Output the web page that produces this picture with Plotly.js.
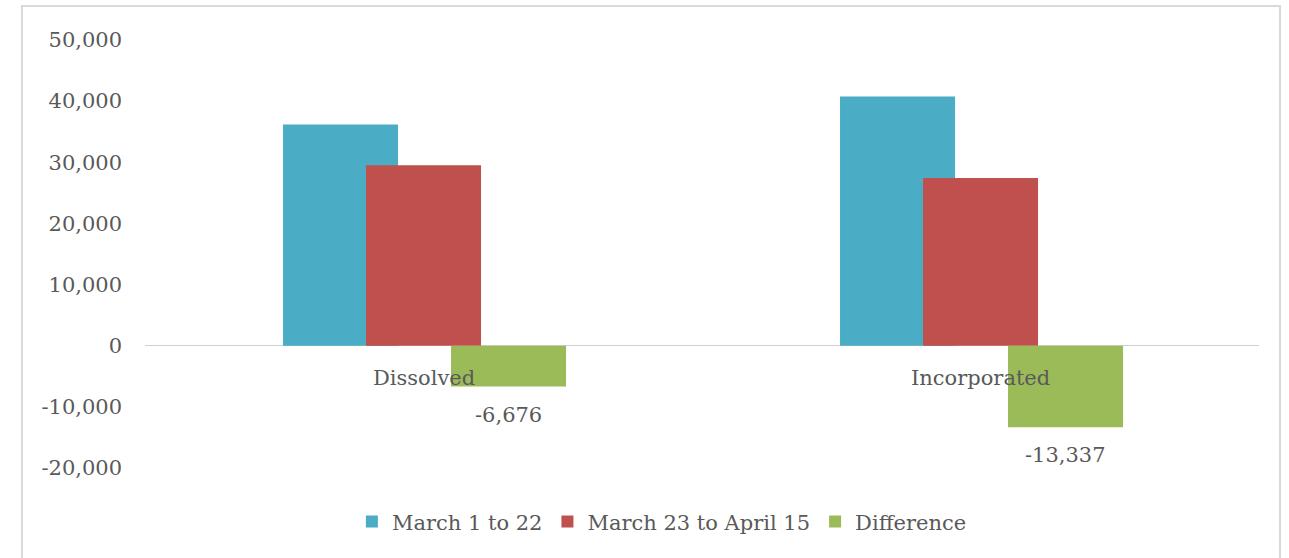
<!DOCTYPE html>
<html>
<head>
<meta charset="utf-8">
<script src="https://cdn.plot.ly/plotly-3.0.1.min.js"></script>
<style>html,body{margin:0;padding:0;background:#fff;}#chart{width:1289px;height:558px;}</style>
</head>
<body>
<div id="chart"></div>
<script>
const categories = ["Dissolved", "Incorporated"];
const seriesNames = ["March 1 to 22", "March 23 to April 15", "Difference"];
const march1to22 = [36200, 40750];
const march23toApr15 = [29524, 27413];
const difference = [-6676, -13337];
const tickValues = [-20000, -10000, 0, 10000, 20000, 30000, 40000, 50000];
const tickLabels = ["-20,000", "-10,000", "0", "10,000", "20,000", "30,000", "40,000", "50,000"];

const FONT = "DejaVu Serif";
const FS = 21;
const TXT = "#595959";
const W = 0.2065;
const offsets = [-0.2522, -0.1032, 0.0494];
const colors = ["#4bacc6", "#c0504d", "#9bbb59"];
const series = [march1to22, march23toApr15, difference];

const traces = series.map((vals, i) => ({
  type: "bar",
  name: seriesNames[i],
  x: categories,
  y: vals,
  width: W,
  offset: offsets[i],
  marker: {color: colors[i], line: {width: 0}},
  hoverinfo: "skip"
}));

const fmt = v => (v < 0 ? "-" : "") + Math.abs(v).toLocaleString("en-US");

const annotations = [];
categories.forEach((c, i) => {
  annotations.push({
    x: i, y: 0, xref: "x", yref: "y", text: c, showarrow: false,
    yanchor: "middle", yshift: -32,
    font: {family: FONT, size: FS, color: TXT}
  });
  annotations.push({
    x: i + offsets[2] + W / 2, y: difference[i], xref: "x", yref: "y",
    text: fmt(difference[i]), showarrow: false,
    yanchor: "middle", yshift: -28,
    font: {family: FONT, size: FS, color: TXT}
  });
});

const layout = {
  width: 1289, height: 558,
  margin: {l: 145, r: 30, t: 40, b: 90, pad: 0},
  paper_bgcolor: "#fff", plot_bgcolor: "#fff",
  barmode: "overlay",
  font: {family: FONT, size: FS, color: TXT},
  xaxis: {
    type: "category", range: [-0.5, 1.5], showticklabels: false,
    showgrid: false, zeroline: false, showline: false, ticks: ""
  },
  yaxis: {
    range: [-20000, 50000], tickvals: tickValues, ticktext: tickLabels,
    showgrid: false, zeroline: true, zerolinecolor: "#d0d0d0", zerolinewidth: 1.5,
    showline: false, ticks: "", ticklabelstandoff: 22,
    tickfont: {family: FONT, size: FS, color: TXT}
  },
  showlegend: true,
  legend: {
    orientation: "h", x: 0.464, xanchor: "center", y: -0.126, yanchor: "middle",
    font: {family: FONT, size: FS, color: TXT}, itemwidth: 30, bgcolor: "rgba(0,0,0,0)"
  },
  shapes: [{
    type: "rect", xref: "paper", yref: "paper",
    x0: -0.1104, x1: 1.0189, y0: -0.25, y1: 1.0794,
    line: {color: "#d9d9d9", width: 2}, fillcolor: "rgba(0,0,0,0)", layer: "below"
  }],
  annotations: annotations
};

Plotly.newPlot("chart", traces, layout, {displayModeBar: false, staticPlot: true});
</script>
</body>
</html>
